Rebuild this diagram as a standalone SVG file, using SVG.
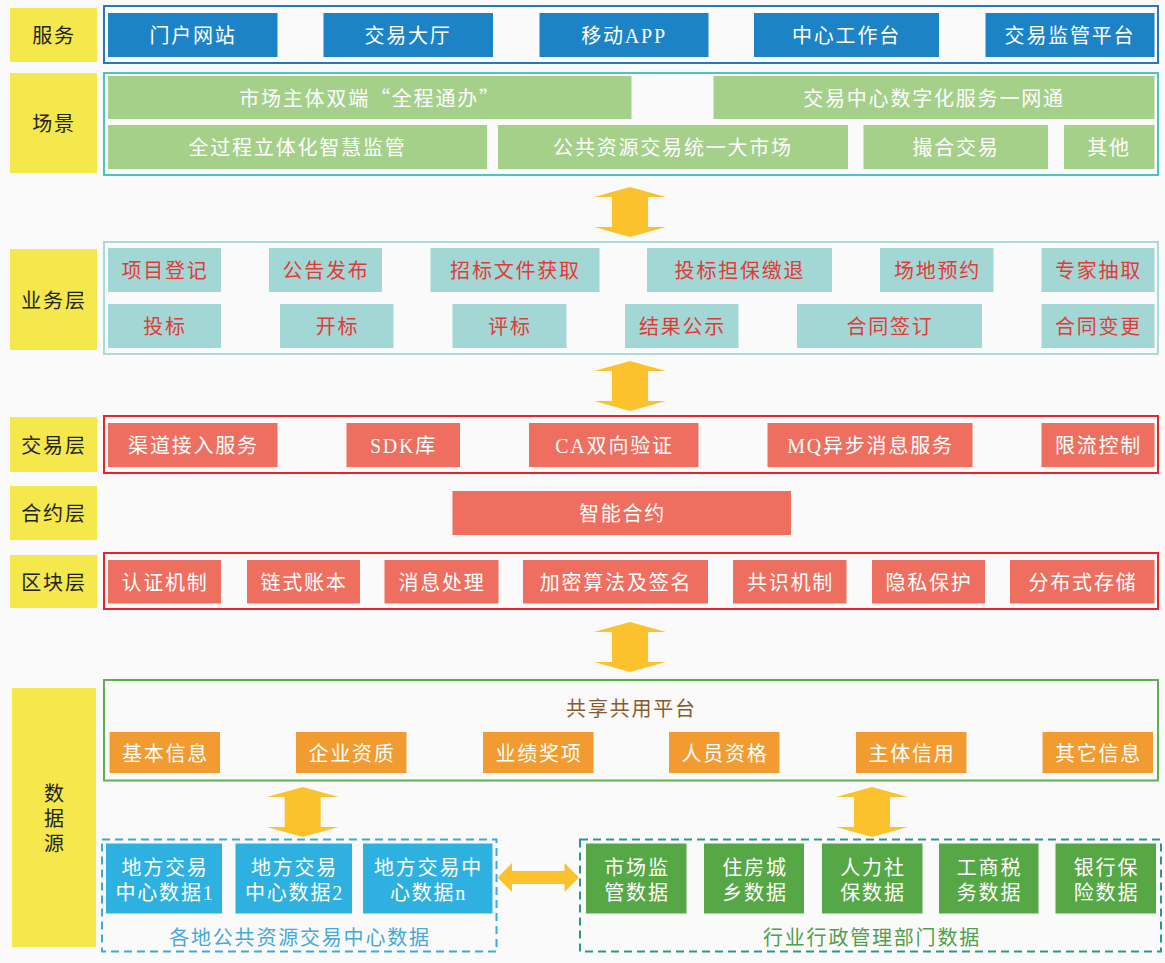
<svg xmlns="http://www.w3.org/2000/svg" width="1165" height="963" viewBox="0 0 1165 963">
<style>
text{font-family:"Liberation Serif","Noto Sans CJK SC",serif;font-size:20px;text-anchor:middle;letter-spacing:1.8px}
.q{font-family:"Noto Sans CJK SC",sans-serif}
.lbl{fill:#f4e84c}
.lt{fill:#222}
.wt{fill:#fff}
.rt{fill:#e53935}
.svc{fill:#1c84c6}
.scn{fill:#a5d08a}
.biz{fill:#a2d7d6}
.red{fill:#ee6f5f}
.org{fill:#f29b31}
.bd{fill:#2eb1e0}
.gd{fill:#55a845}
.arr{fill:#fbc22e}
</style>
<rect width="1165" height="963" fill="#fafafa"/>
<defs>
<path id="va" d="M0,-25 L36,-15 L18,-15 L18,15 L36,15 L0,25 L-36,15 L-18,15 L-18,-15 L-36,-15 Z"/>
</defs>

<g id="layer-labels">
<g id="lbl-service"><rect class="lbl" x="10" y="8" width="87" height="54"/><text class="lt" x="54" y="43">服务</text></g>
<g id="lbl-scene"><rect class="lbl" x="10" y="73" width="87" height="100"/><text class="lt" x="54" y="131">场景</text></g>
<g id="lbl-biz"><rect class="lbl" x="10" y="249" width="87" height="101"/><text class="lt" x="54" y="308">业务层</text></g>
<g id="lbl-trade"><rect class="lbl" x="10" y="417" width="87" height="55"/><text class="lt" x="54" y="453">交易层</text></g>
<g id="lbl-contract"><rect class="lbl" x="10" y="486" width="87" height="54"/><text class="lt" x="54" y="521">合约层</text></g>
<g id="lbl-chain"><rect class="lbl" x="10" y="555" width="87" height="53"/><text class="lt" x="54" y="590">区块层</text></g>
<g id="lbl-data"><rect class="lbl" x="12" y="688" width="84" height="259"/><text class="lt" x="55" y="801">数</text><text class="lt" x="55" y="826">据</text><text class="lt" x="55" y="851">源</text></g>
</g>

<g id="service">
<rect x="104" y="6" width="1054" height="57" fill="none" stroke="#2878c0" stroke-width="2"/>
<g id="s1"><rect class="svc" x="108" y="13" width="169.5" height="44"/><text class="wt" x="193" y="43">门户网站</text></g>
<g id="s2"><rect class="svc" x="323.5" y="13" width="169.5" height="44"/><text class="wt" x="408" y="43">交易大厅</text></g>
<g id="s3"><rect class="svc" x="539.5" y="13" width="169" height="44"/><text class="wt" x="624" y="43">移动APP</text></g>
<g id="s4"><rect class="svc" x="754" y="13" width="185" height="44"/><text class="wt" x="846.5" y="43">中心工作台</text></g>
<g id="s5"><rect class="svc" x="985.5" y="13" width="169" height="44"/><text class="wt" x="1070" y="43">交易监管平台</text></g>
</g>

<g id="scene">
<rect x="104" y="73" width="1054" height="102" fill="none" stroke="#4cc4c4" stroke-width="2"/>
<g id="sc1"><rect class="scn" x="108" y="76" width="523.5" height="43"/><text class="wt" x="370" y="105.5">市场主体双端<tspan class="q">“</tspan>全程通办<tspan class="q">”</tspan></text></g>
<g id="sc2"><rect class="scn" x="713.5" y="76" width="441" height="43"/><text class="wt" x="934" y="105.5">交易中心数字化服务一网通</text></g>
<g id="sc3"><rect class="scn" x="108" y="125" width="379" height="44"/><text class="wt" x="297.5" y="155">全过程立体化智慧监管</text></g>
<g id="sc4"><rect class="scn" x="498" y="125" width="350" height="44"/><text class="wt" x="673" y="155">公共资源交易统一大市场</text></g>
<g id="sc5"><rect class="scn" x="863.5" y="125" width="184.5" height="44"/><text class="wt" x="956" y="155">撮合交易</text></g>
<g id="sc6"><rect class="scn" x="1064" y="125" width="90.5" height="44"/><text class="wt" x="1109" y="155">其他</text></g>
</g>

<g id="business">
<rect x="104" y="242" width="1054" height="112" fill="none" stroke="#a8dcdc" stroke-width="2"/>
<g id="b1"><rect class="biz" x="108" y="248" width="113" height="44"/><text class="rt" x="165" y="278">项目登记</text></g>
<g id="b2"><rect class="biz" x="269" y="248" width="113" height="44"/><text class="rt" x="326" y="278">公告发布</text></g>
<g id="b3"><rect class="biz" x="430.5" y="248" width="169" height="44"/><text class="rt" x="515.5" y="278">招标文件获取</text></g>
<g id="b4"><rect class="biz" x="647" y="248" width="185" height="44"/><text class="rt" x="740" y="278">投标担保缴退</text></g>
<g id="b5"><rect class="biz" x="880" y="248" width="113.5" height="44"/><text class="rt" x="937.5" y="278">场地预约</text></g>
<g id="b6"><rect class="biz" x="1041.5" y="248" width="113" height="44"/><text class="rt" x="1098.5" y="278">专家抽取</text></g>
<g id="b7"><rect class="biz" x="108" y="304" width="113" height="44"/><text class="rt" x="165" y="334">投标</text></g>
<g id="b8"><rect class="biz" x="280" y="304" width="113.5" height="44"/><text class="rt" x="337.5" y="334">开标</text></g>
<g id="b9"><rect class="biz" x="452.5" y="304" width="114" height="44"/><text class="rt" x="510" y="334">评标</text></g>
<g id="b10"><rect class="biz" x="625" y="304" width="113.5" height="44"/><text class="rt" x="682.5" y="334">结果公示</text></g>
<g id="b11"><rect class="biz" x="797" y="304" width="185" height="44"/><text class="rt" x="890" y="334">合同签订</text></g>
<g id="b12"><rect class="biz" x="1041.5" y="304" width="113" height="44"/><text class="rt" x="1098.5" y="334">合同变更</text></g>
</g>

<g id="trade">
<rect x="104" y="416" width="1054" height="57" fill="none" stroke="#e8232b" stroke-width="2"/>
<g id="t1"><rect class="red" x="108" y="423" width="169.5" height="44"/><text class="wt" x="193.5" y="453">渠道接入服务</text></g>
<g id="t2"><rect class="red" x="346.5" y="423" width="113.5" height="44"/><text class="wt" x="403.5" y="453">SDK库</text></g>
<g id="t3"><rect class="red" x="529" y="423" width="169.5" height="44"/><text class="wt" x="614.5" y="453">CA双向验证</text></g>
<g id="t4"><rect class="red" x="767.5" y="423" width="205" height="44"/><text class="wt" x="870.5" y="453">MQ异步消息服务</text></g>
<g id="t5"><rect class="red" x="1041.5" y="423" width="113" height="44"/><text class="wt" x="1098.5" y="453">限流控制</text></g>
</g>

<g id="contract">
<rect class="red" x="452.5" y="491" width="338.5" height="44"/><text class="wt" x="622.5" y="521">智能合约</text>
</g>

<g id="chain">
<rect x="104" y="553" width="1054" height="56" fill="none" stroke="#e8232b" stroke-width="2"/>
<g id="c1"><rect class="red" x="108" y="560" width="113" height="43.5"/><text class="wt" x="165" y="590">认证机制</text></g>
<g id="c2"><rect class="red" x="247" y="560" width="113" height="43.5"/><text class="wt" x="304" y="590">链式账本</text></g>
<g id="c3"><rect class="red" x="384.5" y="560" width="114" height="43.5"/><text class="wt" x="442" y="590">消息处理</text></g>
<g id="c4"><rect class="red" x="523" y="560" width="185" height="43.5"/><text class="wt" x="616" y="590">加密算法及签名</text></g>
<g id="c5"><rect class="red" x="733" y="560" width="113.5" height="43.5"/><text class="wt" x="790.5" y="590">共识机制</text></g>
<g id="c6"><rect class="red" x="872" y="560" width="113" height="43.5"/><text class="wt" x="929" y="590">隐私保护</text></g>
<g id="c7"><rect class="red" x="1010" y="560" width="144.5" height="43.5"/><text class="wt" x="1083" y="590">分布式存储</text></g>
</g>

<g id="platform">
<rect x="104" y="680" width="1054" height="100.5" fill="none" stroke="#5cb050" stroke-width="2"/>
<text x="631.5" y="716" fill="#8b5a2b">共享共用平台</text>
<g id="p1"><rect class="org" x="109.5" y="732" width="110.5" height="41"/><text class="wt" x="165.5" y="761">基本信息</text></g>
<g id="p2"><rect class="org" x="296" y="732" width="110.5" height="41"/><text class="wt" x="352" y="761">企业资质</text></g>
<g id="p3"><rect class="org" x="483" y="732" width="110.5" height="41"/><text class="wt" x="539" y="761">业绩奖项</text></g>
<g id="p4"><rect class="org" x="669" y="732" width="110.5" height="41"/><text class="wt" x="725" y="761">人员资格</text></g>
<g id="p5"><rect class="org" x="856" y="732" width="110.5" height="41"/><text class="wt" x="912" y="761">主体信用</text></g>
<g id="p6"><rect class="org" x="1042.5" y="732" width="110.5" height="41"/><text class="wt" x="1098.5" y="761">其它信息</text></g>
</g>

<g id="local-data">
<rect x="102" y="839.5" width="394.5" height="112" fill="none" stroke="#3aa9dc" stroke-width="2" stroke-dasharray="8,5"/>
<g id="ld1"><rect class="bd" x="106" y="843.5" width="116" height="70"/><text class="wt" x="165" y="875">地方交易</text><text class="wt" x="165" y="900">中心数据1</text></g>
<g id="ld2"><rect class="bd" x="235.5" y="843.5" width="116.5" height="70"/><text class="wt" x="294.5" y="875">地方交易</text><text class="wt" x="294.5" y="900">中心数据2</text></g>
<g id="ld3"><rect class="bd" x="363" y="843.5" width="129.5" height="70"/><text class="wt" x="428.5" y="875">地方交易中</text><text class="wt" x="428.5" y="900">心数据n</text></g>
<text x="300" y="945" fill="#45a8d8">各地公共资源交易中心数据</text>
</g>

<g id="industry-data">
<rect x="580" y="839.5" width="581" height="112" fill="none" stroke="#2a9788" stroke-width="2" stroke-dasharray="8,5"/>
<g id="id1"><rect class="gd" x="586" y="843.5" width="100.5" height="70"/><text class="wt" x="637" y="875">市场监</text><text class="wt" x="637" y="900">管数据</text></g>
<g id="id2"><rect class="gd" x="704" y="843.5" width="100" height="70"/><text class="wt" x="755" y="875">住房城</text><text class="wt" x="755" y="900">乡数据</text></g>
<g id="id3"><rect class="gd" x="822" y="843.5" width="100.5" height="70"/><text class="wt" x="873" y="875">人力社</text><text class="wt" x="873" y="900">保数据</text></g>
<g id="id4"><rect class="gd" x="939" y="843.5" width="99.5" height="70"/><text class="wt" x="989.5" y="875">工商税</text><text class="wt" x="989.5" y="900">务数据</text></g>
<g id="id5"><rect class="gd" x="1055.5" y="843.5" width="100.5" height="70"/><text class="wt" x="1106.5" y="875">银行保</text><text class="wt" x="1106.5" y="900">险数据</text></g>
<text x="872" y="945" fill="#4ea04a">行业行政管理部门数据</text>
</g>

<g id="connectors">
<use href="#va" class="arr" x="630" y="212"/>
<use href="#va" class="arr" x="630" y="386"/>
<use href="#va" class="arr" x="630" y="647"/>
<use href="#va" class="arr" x="302.7" y="812"/>
<use href="#va" class="arr" x="872" y="812"/>
<path class="arr" d="M497.5,877.5 L512,863 L512,871 L564.5,871 L564.5,863 L579,877.5 L564.5,892 L564.5,884 L512,884 L512,892 Z"/>
</g>
</svg>
